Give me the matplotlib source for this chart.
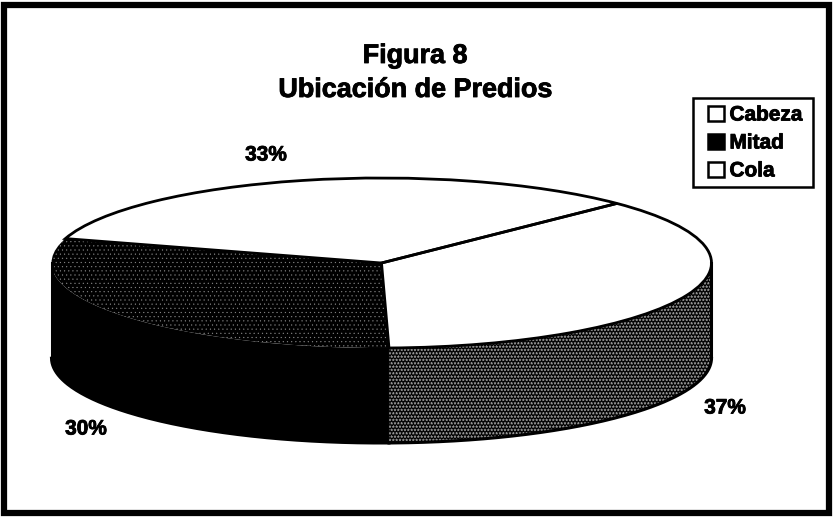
import numpy as np
import matplotlib
matplotlib.use("Agg")
import matplotlib.pyplot as plt
import matplotlib.patheffects as pe
from matplotlib.patches import Patch, Rectangle

W, H = 833, 522

categories = ["Cabeza", "Mitad", "Cola"]
values = [37, 30, 33]
label_pos = [(725, 408), (86, 429), (266, 155)]  # pixels, same order as categories

CX, CY = 381.5, 263  # pie centre
RX, RY = 330, 85
DEPTH = 95 / RY
START = 44.5  # the Cabeza slice starts here and runs clockwise

plt.rcParams["font.family"] = ["Liberation Sans", "DejaVu Sans"]
plt.rcParams["font.weight"] = "bold"
plt.rcParams["hatch.linewidth"] = 0.3

FAT = [pe.withStroke(linewidth=0.6, foreground="black")]  # scan thickens the type


def fx(px):
    return px / W


def fy(py):
    return 1 - py / H


fig = plt.figure(figsize=(W / 100, H / 100), dpi=100, facecolor="white")
ax = fig.add_axes([0, 0, 1, 1])

wedges, _ = ax.pie(values, startangle=START, counterclock=False,
                   wedgeprops={"linewidth": 0, "edgecolor": "#8a8a8a", "zorder": 3})
tops = {"Cabeza": ("white", None), "Mitad": ("black", "...."), "Cola": ("white", None)}
for w, name in zip(wedges, categories):
    w.set_facecolor(tops[name][0])
    w.set_hatch(tops[name][1])

# outline of the top face, the dark slice merges into its rim
outline, _ = ax.pie(values, startangle=START, counterclock=False,
                    wedgeprops={"fill": False, "linewidth": 2, "edgecolor": "black", "zorder": 4})
outline[categories.index("Mitad")].set_visible(False)

# rim: only the front half of the ellipse shows
angle = START
for name, v in zip(categories, values):
    a0, angle = angle, angle - v * 3.6
    t = np.radians(np.linspace(a0, angle, 200))
    keep = np.sin(t) <= 0
    if keep.sum() < 2:
        continue
    x, y = np.cos(t[keep]), np.sin(t[keep])
    if name == "Cabeza":
        ax.fill_between(x, y, y - DEPTH, facecolor="black", edgecolor="#9a9a9a",
                        linewidth=0, hatch="*****", zorder=2)
    else:
        ax.fill_between(x, y, y - DEPTH, facecolor="black", linewidth=0, zorder=2)
    ax.plot(x, y - DEPTH, color="black", lw=2.2, zorder=4)
ax.plot([1, 1], [0, -DEPTH], color="black", lw=2.2, zorder=4)
ax.plot([-1, -1], [0, -DEPTH], color="black", lw=2.2, zorder=4)

ax.set_aspect("auto")
ax.set_xlim(-CX / RX, (W - CX) / RX)
ax.set_ylim(-(H - CY) / RY, CY / RY)
ax.axis("off")

fig.text(fx(415), fy(56), "Figura 8", fontsize=19.4, ha="center", va="center", path_effects=FAT)
fig.text(fx(415), fy(90), "Ubicación de Predios", fontsize=19.4, ha="center", va="center",
         path_effects=FAT)

for name, v, (px, py) in zip(categories, values, label_pos):
    fig.text(fx(px), fy(py), f"{v}%", fontsize=15, ha="center", va="center", path_effects=FAT)

# legend box drawn apart: its margins are not even on all sides
fig.add_artist(Rectangle((fx(693), fy(187)), 120 / W, 89 / H, transform=fig.transFigure,
                         fill=False, edgecolor="black", lw=1.8))
handles = [Patch(facecolor="black" if n == "Mitad" else "white", edgecolor="black",
                 linewidth=1.8, label=n) for n in categories]
leg = ax.legend(handles=handles, loc="upper left", bbox_to_anchor=(fx(708), fy(105.5)),
                bbox_transform=fig.transFigure, borderaxespad=0, fontsize=15,
                frameon=False, borderpad=0, labelspacing=0.43, handlelength=0.75,
                handleheight=0.75, handletextpad=0.28)
leg.set_zorder(6)
for txt in leg.get_texts():
    txt.set_path_effects(FAT)

# scanned page border
fig.add_artist(Rectangle((fx(4), fy(513)), 825 / W, (513 - 4.5) / H,
                         transform=fig.transFigure, fill=False, edgecolor="black", lw=4.5))

fig.savefig("out.png", dpi=100)
